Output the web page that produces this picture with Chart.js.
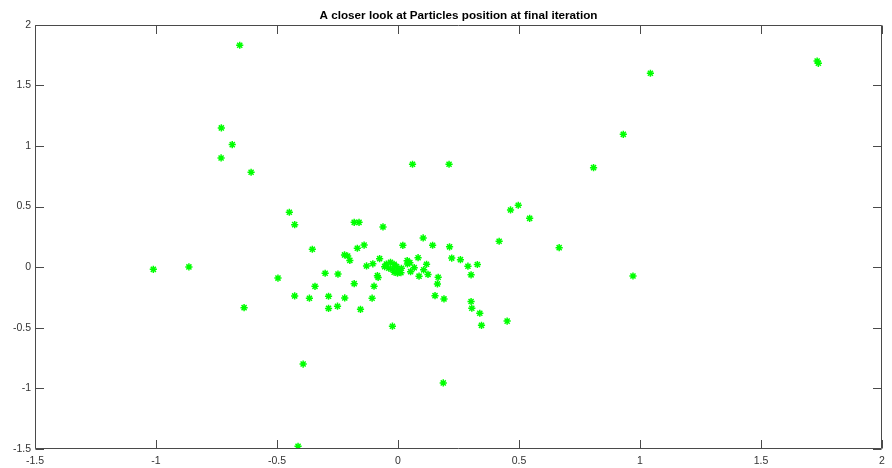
<!DOCTYPE html>
<html>
<head>
<meta charset="utf-8">
<script src="https://cdn.jsdelivr.net/npm/chart.js@4/dist/chart.umd.min.js"></script>
<style>
  body { margin: 0; background: #fff; }
</style>
</head>
<body>
<canvas id="particles" width="892" height="468"></canvas>
<script>
// particle positions after the last iteration
var posX = [
    -0.654, -0.730, -0.685, -0.731, -0.607, 0.060, 0.211, 1.043, 1.732, 1.737,
    0.931, 0.808, 0.465, 0.497, 0.544, -0.449, -0.427, -0.181, -0.161, -0.062,
    -1.011, -0.864, -0.496, -0.636, -0.427, -0.354, -0.343, -0.366, -0.392, -0.413,
    -0.301, -0.287, -0.287, -0.250, -0.248, -0.220, -0.221, -0.208, -0.199, -0.181,
    -0.168, -0.140, -0.155, -0.130, -0.107, -0.099, -0.085, -0.082, -0.104, -0.076,
    -0.023, -0.048, -0.031, -0.016, -0.038, -0.024, -0.006, 0.000, -0.002, 0.012,
    -0.016, -0.055, 0.014, 0.020, 0.038, 0.049, 0.039, 0.083, 0.067, 0.052,
    0.118, 0.106, 0.124, 0.087, 0.104, 0.143, 0.213, 0.166, 0.163, 0.153,
    0.190, 0.187, 0.222, 0.258, 0.289, 0.328, 0.302, 0.418, 0.666, 0.971,
    0.302, 0.305, 0.338, 0.345, 0.451
];
var posY = [
    1.831, 1.149, 1.011, 0.901, 0.783, 0.849, 0.849, 1.600, 1.701, 1.682,
    1.096, 0.821, 0.472, 0.511, 0.403, 0.453, 0.351, 0.370, 0.370, 0.332,
    -0.018, 0.002, -0.090, -0.334, -0.237, 0.148, -0.158, -0.256, -0.799, -1.478,
    -0.050, -0.240, -0.340, -0.322, -0.057, -0.254, 0.101, 0.092, 0.056, -0.136,
    0.156, 0.182, -0.348, 0.010, -0.256, -0.157, -0.070, -0.085, 0.028, 0.070,
    -0.487, 0.026, 0.040, 0.024, -0.009, -0.017, 0.004, -0.023, -0.050, -0.045,
    -0.042, 0.004, -0.009, 0.180, 0.054, 0.037, 0.026, 0.078, -0.004, -0.037,
    0.024, -0.022, -0.060, -0.074, 0.241, 0.181, 0.168, -0.083, -0.138, -0.235,
    -0.262, -0.955, 0.075, 0.062, 0.008, 0.022, -0.063, 0.214, 0.161, -0.073,
    -0.283, -0.339, -0.380, -0.480, -0.445
];

var xTicks = [-1.5, -1, -0.5, 0, 0.5, 1, 1.5, 2];
var yTicks = [-1.5, -1, -0.5, 0, 0.5, 1, 1.5, 2];

var points = posX.map(function (x, i) {
    return { x: x, y: posY[i] };
});

var font = 'Liberation Sans, Arial, Helvetica, sans-serif';

// box around the axes with inward tick marks on all four sides
var axesBox = {
    id: 'axesBox',
    afterDatasetsDraw: function (chart) {
        var ctx = chart.ctx;
        var a = chart.chartArea;
        var sx = chart.scales.x, sy = chart.scales.y;
        var L = Math.round(a.left) + 0.5, R = Math.round(a.right) - 0.5;
        var T = Math.round(a.top) + 0.5, B = Math.round(a.bottom) - 0.5;
        var len = 8.5;
        ctx.save();
        ctx.lineWidth = 1;
        ctx.strokeStyle = '#4a4a4a';
        ctx.beginPath();
        ctx.rect(L, T, R - L, B - T);
        xTicks.forEach(function (v) {
            var px = Math.round(sx.getPixelForValue(v)) + 0.5;
            ctx.moveTo(px, B); ctx.lineTo(px, B - len);
            ctx.moveTo(px, T); ctx.lineTo(px, T + len);
        });
        yTicks.forEach(function (v) {
            var py = Math.round(sy.getPixelForValue(v)) + 0.5;
            ctx.moveTo(L, py); ctx.lineTo(L + len, py);
            ctx.moveTo(R, py); ctx.lineTo(R - len, py);
        });
        ctx.stroke();
        ctx.restore();
    }
};

new Chart(document.getElementById('particles'), {
    type: 'scatter',
    data: {
        datasets: [{
            data: points,
            pointStyle: 'star',
            pointRadius: 3.6,
            pointBorderWidth: 1.5,
            pointBorderColor: '#00ff00',
            pointBackgroundColor: '#00ff00',
            pointHoverRadius: 3.6
        }]
    },
    options: {
        responsive: false,
        animation: false,
        devicePixelRatio: 1,
        layout: { padding: { left: 0, right: 10, top: 0, bottom: 0 } },
        plugins: {
            legend: { display: false },
            tooltip: { enabled: false },
            title: {
                display: true,
                text: 'A closer look at Particles position at final iteration',
                fullSize: false,
                color: '#000',
                font: { family: font, size: 11.7, weight: 'bold', lineHeight: 1.2 },
                padding: { top: 8.5, bottom: 2.2 }
            }
        },
        scales: {
            x: {
                type: 'linear',
                min: -1.5,
                max: 2,
                afterBuildTicks: function (axis) {
                    axis.ticks = xTicks.map(function (v) { return { value: v }; });
                },
                afterFit: function (axis) { axis.height = 19; },
                grid: { display: false, drawTicks: false },
                border: { display: false },
                ticks: {
                    padding: 6,
                    maxRotation: 0,
                    color: '#333',
                    font: { family: font, size: 10.5 },
                    callback: function (v) { return String(v); }
                }
            },
            y: {
                type: 'linear',
                min: -1.5,
                max: 2,
                afterBuildTicks: function (axis) {
                    axis.ticks = yTicks.map(function (v) { return { value: v }; });
                },
                afterFit: function (axis) { axis.width = 35; },
                grid: { display: false, drawTicks: false },
                border: { display: false },
                ticks: {
                    padding: 4,
                    color: '#333',
                    font: { family: font, size: 10.5 },
                    callback: function (v) { return String(v); }
                }
            }
        }
    },
    plugins: [axesBox]
});
</script>
</body>
</html>
